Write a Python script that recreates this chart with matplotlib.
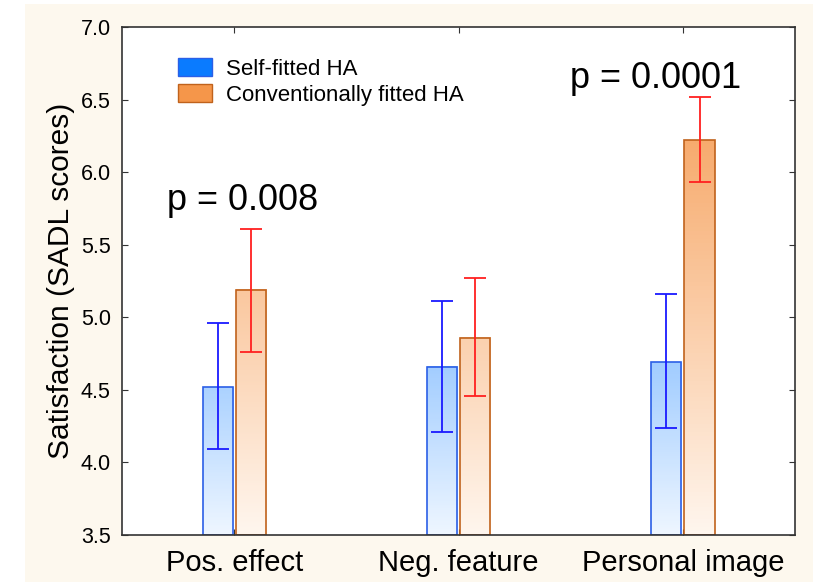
import numpy as np
import matplotlib
matplotlib.use("Agg")
import matplotlib.pyplot as plt
from matplotlib.colors import LinearSegmentedColormap
from matplotlib.patches import Rectangle, Patch

plt.rcParams["font.family"] = ["Liberation Sans", "DejaVu Sans"]

categories = ["Pos. effect", "Neg. feature", "Personal image"]
series = ["Self-fitted HA", "Conventionally fitted HA"]
self_mean = [4.52, 4.66, 4.69]
self_lo = [4.09, 4.21, 4.24]
self_hi = [4.96, 5.11, 5.16]
conv_mean = [5.19, 4.86, 6.22]
conv_lo = [4.76, 4.46, 5.93]
conv_hi = [5.61, 5.27, 6.52]
p_labels = ["p = 0.008", "p = 0.0001"]
p_anchor = [(-0.3, 5.74), (1.497, 6.58)]  # text baseline positions (data units)

fig = plt.figure(figsize=(8.13, 5.87), dpi=100)
# cream panel behind the chart
fig.add_artist(Rectangle((0.031, 0.009), 0.969, 0.984, transform=fig.transFigure,
                         facecolor="#fdf8ee", edgecolor="none", zorder=-10))
ax = fig.add_axes([0.150, 0.0886, 0.828, 0.865])
ax.set_facecolor("white")

ymin, ymax = 3.5, 7.0
width = 0.134
offset = 0.074
x = np.arange(len(categories))

styles = [
    dict(full="#0a7bff", light="#eef6ff", edge="#2b5fe6", err="#1a1aff"),
    dict(full="#f5964a", light="#fff6ee", edge="#c0621c", err="#ff2020"),
]
data = [(self_mean, self_lo, self_hi), (conv_mean, conv_lo, conv_hi)]

for k, (means, lo, hi) in enumerate(data):
    st = styles[k]
    cmap = LinearSegmentedColormap.from_list("g%d" % k, [st["light"], st["full"]])
    xs = x + (-offset if k == 0 else offset)
    for xi, m in zip(xs, means):
        grad = np.linspace(ymin, m, 100).reshape(-1, 1)
        ax.imshow(grad, extent=[xi - width / 2, xi + width / 2, ymin, m], origin="lower",
                  aspect="auto", cmap=cmap, vmin=ymin, vmax=ymax, zorder=1)
    ax.bar(xs, np.array(means) - ymin, width, bottom=ymin, facecolor="none",
           edgecolor=st["edge"], linewidth=1.2, zorder=2)
    yerr = [np.array(means) - np.array(lo), np.array(hi) - np.array(means)]
    ax.errorbar(xs, means, yerr=yerr, fmt="none", ecolor=st["err"], elinewidth=1.3,
                capsize=8, capthick=1.3, zorder=3)

for lab, (px, py) in zip(p_labels, p_anchor):
    ax.text(px, py, lab, fontsize=26, ha="left", va="baseline")

ax.set_xlim(-0.5, 2.5)
ax.set_ylim(ymin, ymax)
ax.set_xticks(x)
ax.set_xticklabels(categories, fontsize=21)
ax.set_yticks(np.arange(3.5, 7.01, 0.5))
ax.set_yticklabels(["%.1f" % v for v in np.arange(3.5, 7.01, 0.5)], fontsize=15.5)
ax.tick_params(axis="both", direction="in", length=4, top=True, right=True,
               color="#333333")
ax.tick_params(axis="x", pad=10)
ax.tick_params(axis="y", pad=8)
for sp in ax.spines.values():
    sp.set_color("#333333")
    sp.set_linewidth(1.2)
ax.set_ylabel("Satisfaction (SADL scores)", fontsize=21.5, labelpad=4)

handles = [Patch(facecolor=styles[0]["full"], edgecolor=styles[0]["edge"]),
           Patch(facecolor=styles[1]["full"], edgecolor=styles[1]["edge"])]
ax.legend(handles, series, loc="upper left", bbox_to_anchor=(0.083, 0.94), frameon=False,
          fontsize=16, handlelength=1.55, handleheight=0.9, handletextpad=0.6,
          labelspacing=0.2, borderpad=0, borderaxespad=0)

fig.savefig("out.png", dpi=100)
